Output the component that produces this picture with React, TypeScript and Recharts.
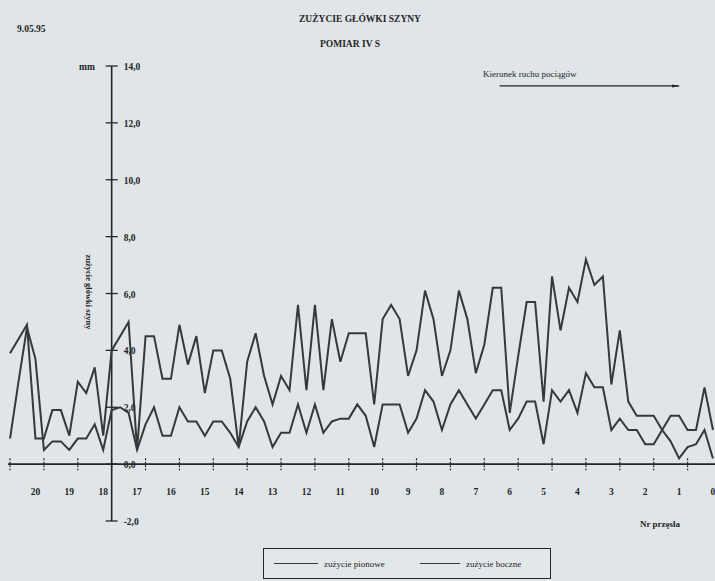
import React from 'react';
import { ComposedChart, Line, XAxis, YAxis, ReferenceLine, Scatter, Legend } from 'recharts';

// measurement points (4 per span), index 0..83
const pointIndex: number[] = Array.from({ length: 84 }, (_, k) => k);

const pionowe: number[] = [
  3.9, 4.4, 4.9, 0.9, 0.9, 1.9, 1.9, 1.0, 2.9, 2.5,
  3.4, 1.0, 4.0, 4.5, 5.0, 0.5, 4.5, 4.5, 3.0, 3.0,
  4.9, 3.5, 4.5, 2.5, 4.0, 4.0, 3.0, 0.6, 3.6, 4.6,
  3.1, 2.1, 3.1, 2.6, 5.6, 2.6, 5.6, 2.6, 5.1, 3.6,
  4.6, 4.6, 4.6, 2.1, 5.1, 5.6, 5.1, 3.1, 4.0, 6.1,
  5.1, 3.1, 4.0, 6.1, 5.1, 3.2, 4.2, 6.2, 6.2, 1.8,
  3.8, 5.7, 5.7, 2.2, 6.6, 4.7, 6.2, 5.7, 7.2, 6.3,
  6.6, 2.8, 4.7, 2.2, 1.7, 1.7, 1.7, 1.2, 0.8, 0.2,
  0.6, 0.7, 1.2, 0.2,
];

const boczne: number[] = [
  0.9, 2.9, 4.8, 3.7, 0.5, 0.8, 0.8, 0.5, 0.9, 0.9,
  1.4, 0.5, 1.9, 2.0, 1.8, 0.5, 1.4, 2.0, 1.0, 1.0,
  2.0, 1.5, 1.5, 1.0, 1.5, 1.5, 1.1, 0.6, 1.5, 2.0,
  1.5, 0.6, 1.1, 1.1, 2.1, 1.1, 2.1, 1.1, 1.5, 1.6,
  1.6, 2.1, 1.7, 0.6, 2.1, 2.1, 2.1, 1.1, 1.6, 2.6,
  2.2, 1.2, 2.1, 2.6, 2.1, 1.6, 2.1, 2.6, 2.6, 1.2,
  1.6, 2.2, 2.2, 0.7, 2.6, 2.2, 2.6, 1.8, 3.2, 2.7,
  2.7, 1.2, 1.6, 1.2, 1.2, 0.7, 0.7, 1.2, 1.7, 1.7,
  1.2, 1.2, 2.7, 1.2,
];

const stationLabels: string[] = ['20', '19', '18', '17', '16', '15', '14', '13', '12', '11', '10', '9', '8', '7', '6', '5', '4', '3', '2', '1', '0'];
const yTickValues: number[] = [14, 12, 10, 8, 6, 4, 2, 0, -2];
const xTickIndex: number[] = [0, 4, 8, 12, 16, 20, 24, 28, 32, 36, 40, 44, 48, 52, 56, 60, 64, 68, 72, 76, 80];
const yAxisAt = 12;

const data = pointIndex.map((i, k) => ({ i, pionowe: pionowe[k], boczne: boczne[k] }));
const stationRows = stationLabels.map((s, k) => ({ i: 3 + 4 * k, y: -0.95, name: s }));
const yTickRows = yTickValues.map((v) => ({ i: yAxisAt, y: v, name: v.toFixed(1).replace('.', ',') }));
const xTickRows = xTickIndex.map((i) => ({ i, y: 0 }));

const INK = '#262626';
const LINE = '#383838';
const FONT = '"Liberation Serif", "DejaVu Serif", serif';

const StationLabel = (p: any) => (
  <text x={p.cx} y={p.cy + 4} textAnchor="middle" fontFamily={FONT} fontWeight="bold" fontSize={9.5} fill={INK}>
    {p.payload.name}
  </text>
);

const YTick = (p: any) => (
  <g>
    <line x1={p.cx - 6} x2={p.cx + 6} y1={p.cy} y2={p.cy} stroke={INK} strokeWidth={1.3} />
    <text x={p.cx + 12} y={p.cy + 4} textAnchor="start" fontFamily={FONT} fontWeight="bold" fontSize={9.5} fill={INK}>
      {p.payload.name}
    </text>
  </g>
);

const XTick = (p: any) => (
  <line x1={p.cx} x2={p.cx} y1={p.cy - 6} y2={p.cy + 6} stroke={INK} strokeWidth={1.2} strokeDasharray="2 1.5" />
);

const LegendBox = () => (
  <div
    style={{
      border: `1.2px solid ${INK}`,
      width: 288,
      height: 31,
      boxSizing: 'border-box',
      display: 'flex',
      alignItems: 'center',
      fontFamily: FONT,
      fontSize: 9,
      color: INK,
      background: '#e2e7ea',
    }}
  >
    <span style={{ display: 'inline-block', width: 44, borderTop: `1.5px solid ${LINE}`, marginLeft: 10, marginRight: 6 }} />
    <span style={{ width: 90 }}>zużycie pionowe</span>
    <span style={{ display: 'inline-block', width: 40, borderTop: `1.5px solid ${LINE}`, marginLeft: 6, marginRight: 6 }} />
    <span>zużycie boczne</span>
  </div>
);

export default function App() {
  return (
    <div style={{ position: 'absolute', left: 0, top: 0, width: 715, height: 581, background: '#dfe5e8', overflow: 'hidden' }}>
      <ComposedChart width={715} height={581} data={data} margin={{ top: 66, right: 0, bottom: 60, left: 8 }}>
        <defs>
          <marker id="arrowHead" markerWidth="8" markerHeight="6" refX="7" refY="3" orient="auto" markerUnits="userSpaceOnUse">
            <path d="M0,1.5 L8,3 L0,4.5 Z" fill={INK} />
          </marker>
        </defs>
        <XAxis dataKey="i" type="number" domain={[-0.24, 83.24]} hide />
        <YAxis type="number" domain={[-2, 14]} hide />
        <ReferenceLine y={0} stroke={INK} strokeWidth={1.6} />
        <ReferenceLine x={yAxisAt} stroke={INK} strokeWidth={1.6} />
        <ReferenceLine
          segment={[{ x: 57.8, y: 13.3 }, { x: 79, y: 13.3 }]}
          stroke={INK}
          strokeWidth={1.4}
          markerEnd="url(#arrowHead)"
        />
        <Line dataKey="pionowe" type="linear" stroke={LINE} strokeWidth={2} dot={false} isAnimationActive={false} />
        <Line dataKey="boczne" type="linear" stroke={LINE} strokeWidth={2} dot={false} isAnimationActive={false} />
        <Scatter data={xTickRows} dataKey="y" shape={XTick} isAnimationActive={false} legendType="none" />
        <Scatter data={yTickRows} dataKey="y" shape={YTick} isAnimationActive={false} legendType="none" />
        <Scatter data={stationRows} dataKey="y" shape={StationLabel} isAnimationActive={false} legendType="none" />
        <Legend
          layout="horizontal"
          verticalAlign="middle"
          align="center"
          content={LegendBox}
          wrapperStyle={{ left: 263, top: 548, width: 288, height: 31 }}
        />
      </ComposedChart>
      <svg width={715} height={581} style={{ position: 'absolute', left: 0, top: 0, pointerEvents: 'none' }}>
        <g fontFamily={FONT} fill={INK} fontWeight="bold">
          <text x={360} y={22} textAnchor="middle" fontSize={9.5}>ZUŻYCIE GŁÓWKI SZYNY</text>
          <text x={350} y={47} textAnchor="middle" fontSize={9.5}>POMIAR IV S</text>
          <text x={17} y={32} fontSize={9.5}>9.05.95</text>
          <text x={79} y={70} fontSize={9.5}>mm</text>
          <text x={483} y={77} fontSize={9} fontWeight="normal">Kierunek ruchu pociągów</text>
          <text x={640} y={527} fontSize={9}>Nr przęsła</text>
          <text x={0} y={0} fontSize={8.5} textAnchor="middle" transform="translate(86 292) rotate(90)">zużycie główki szyny</text>
        </g>
      </svg>
    </div>
  );
}
